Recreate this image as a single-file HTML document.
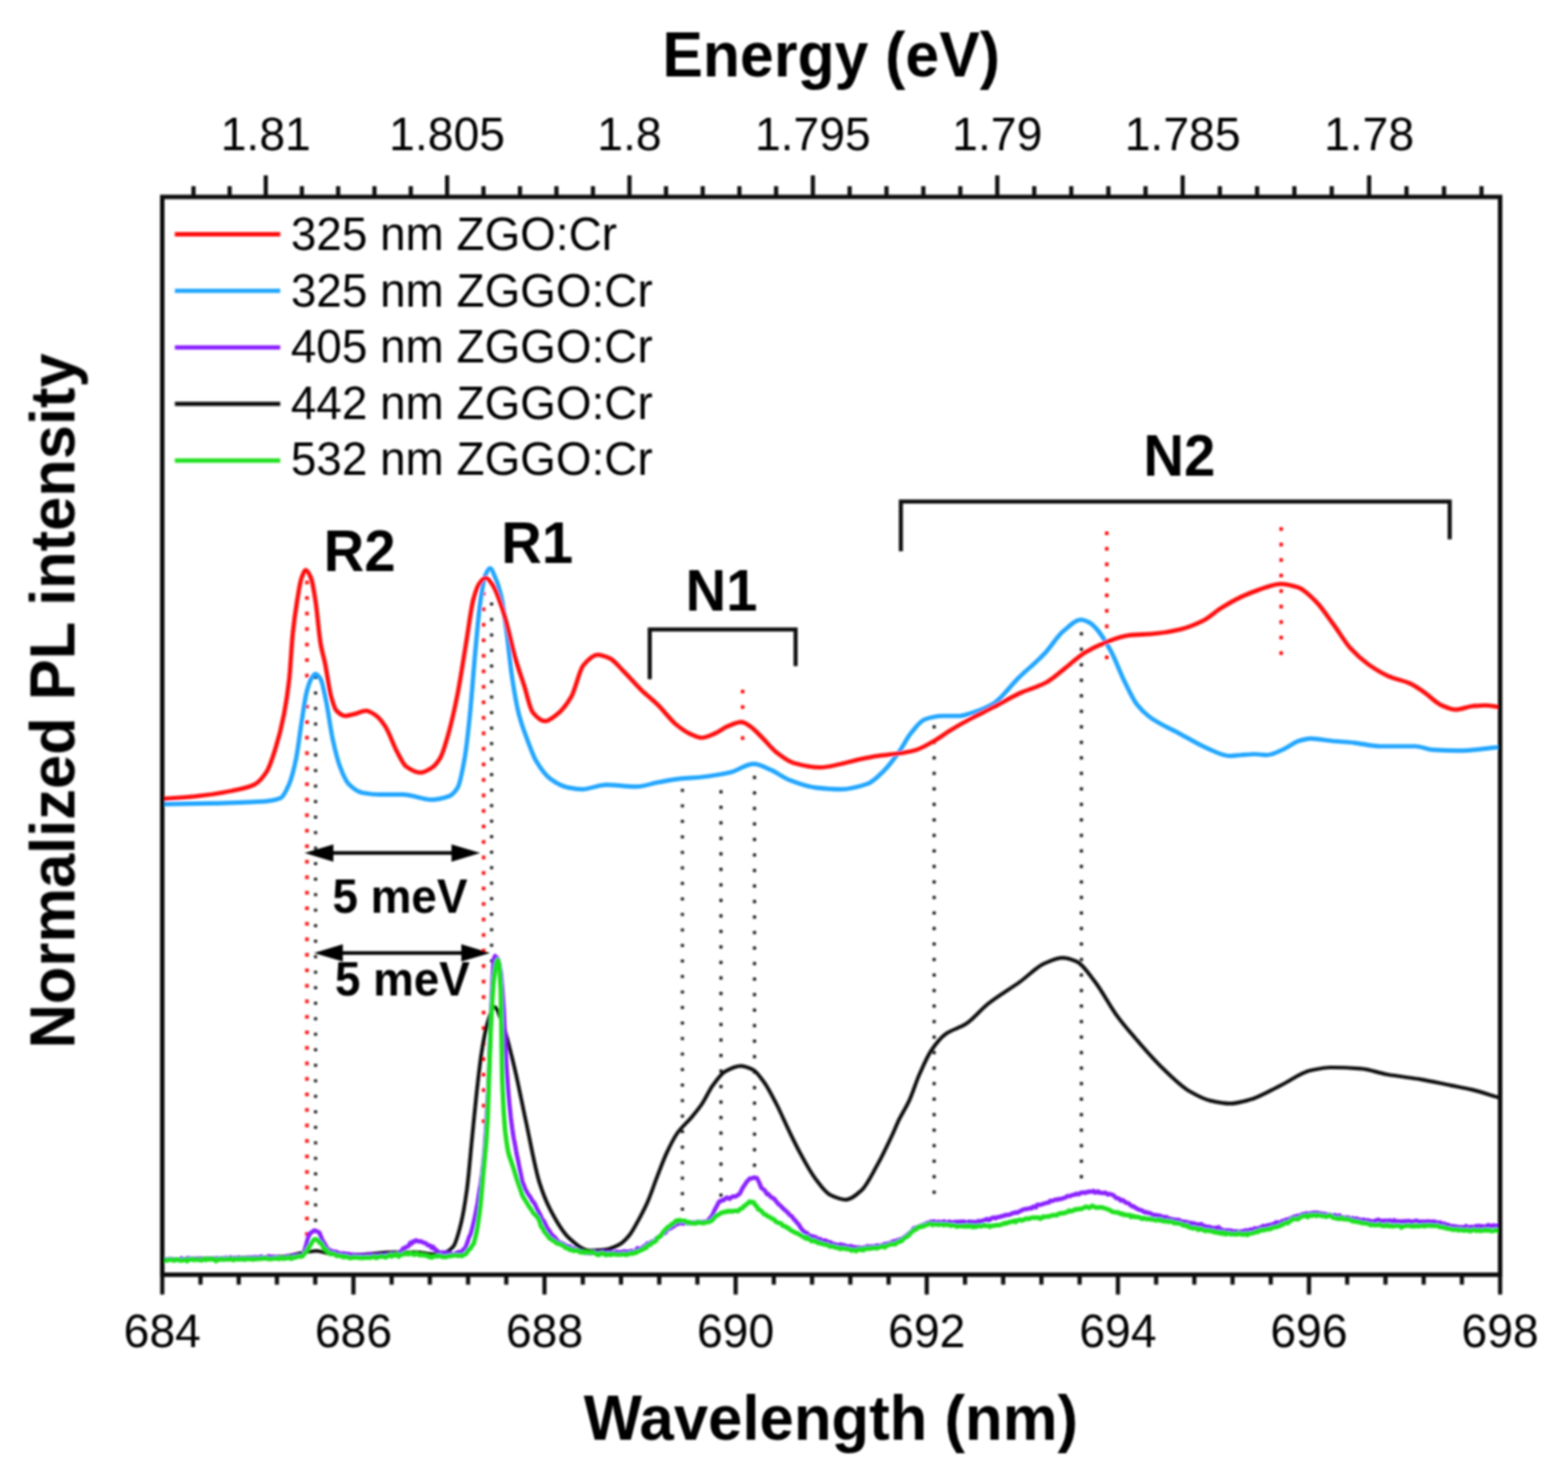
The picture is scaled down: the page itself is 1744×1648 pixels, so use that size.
<!DOCTYPE html><html><head><meta charset="utf-8"><title>PL spectra</title><style>html,body{margin:0;padding:0;background:#fff;}svg{display:block;}#w{width:1744px;height:1648px;}text{font-family:"Liberation Sans",Arial,sans-serif;fill:#000;}.b{font-weight:bold;}</style></head><body>
<div id="w">
<svg width="1744" height="1648" viewBox="0 0 1744 1648">
<defs><filter id="bl" x="0" y="0" width="1744" height="1648" filterUnits="userSpaceOnUse"><feGaussianBlur stdDeviation="1"/></filter></defs>
<rect width="1744" height="1648" fill="#fff"/>
<g filter="url(#bl)">
<line x1="341.4" y1="645.65" x2="341.4" y2="1391.40" stroke="#ff0d0d" stroke-width="4" stroke-dasharray="4.00 13.25" fill="none"/>
<line x1="351.0" y1="751.65" x2="351.0" y2="1358.80" stroke="#111111" stroke-width="3.4" stroke-dasharray="3.40 13.85" fill="none"/>
<line x1="537.9" y1="658.25" x2="537.9" y2="1248.75" stroke="#ff0d0d" stroke-width="4" stroke-dasharray="4.00 13.25" fill="none"/>
<line x1="546.8" y1="669.90" x2="546.8" y2="1070.05" stroke="#111111" stroke-width="3.4" stroke-dasharray="3.40 13.85" fill="none"/>
<line x1="759.0" y1="877.20" x2="759.0" y2="1346.35" stroke="#111111" stroke-width="3.4" stroke-dasharray="3.40 13.85" fill="none"/>
<line x1="801.9" y1="878.80" x2="801.9" y2="1330.70" stroke="#111111" stroke-width="3.4" stroke-dasharray="3.40 13.85" fill="none"/>
<line x1="839.2" y1="862.80" x2="839.2" y2="1297.45" stroke="#111111" stroke-width="3.4" stroke-dasharray="3.40 13.85" fill="none"/>
<line x1="1039.0" y1="806.60" x2="1039.0" y2="1327.50" stroke="#111111" stroke-width="3.4" stroke-dasharray="3.40 13.85" fill="none"/>
<line x1="1202.8" y1="703.00" x2="1202.8" y2="1310.15" stroke="#111111" stroke-width="3.4" stroke-dasharray="3.40 13.85" fill="none"/>
<line x1="826.0" y1="766.90" x2="826.0" y2="822.65" stroke="#ff0d0d" stroke-width="4" stroke-dasharray="4.00 13.25" fill="none"/>
<line x1="1231.0" y1="591.00" x2="1231.0" y2="733.00" stroke="#ff0d0d" stroke-width="4" stroke-dasharray="4.00 13.25" fill="none"/>
<line x1="1425.0" y1="586.20" x2="1425.0" y2="728.20" stroke="#ff0d0d" stroke-width="4" stroke-dasharray="4.00 13.25" fill="none"/>
<path d="M181.0,1400.4 C226.5,1399.3 272.1,1399.5 317.6,1397.0 C323.3,1396.7 329.1,1394.5 334.8,1393.5 C340.5,1392.5 346.3,1391.0 352.0,1391.0 C357.7,1391.0 363.5,1394.0 369.2,1394.4 C377.8,1394.9 386.4,1395.3 395.0,1395.3 C409.3,1395.3 423.7,1392.7 438.0,1392.7 C446.6,1392.7 455.2,1392.7 463.8,1392.7 C469.2,1392.7 474.6,1394.5 480.0,1394.5 C484.4,1394.5 488.7,1394.1 493.1,1393.5 C496.7,1393.0 500.4,1390.4 504.0,1386.4 C506.9,1383.2 509.9,1371.9 512.8,1360.2 C515.0,1351.6 517.1,1338.8 519.3,1323.0 C521.1,1309.6 523.0,1286.6 524.8,1268.4 C526.6,1250.2 528.5,1230.1 530.3,1213.8 C532.1,1197.8 533.9,1181.3 535.7,1170.1 C537.9,1156.5 540.1,1144.3 542.3,1137.4 C544.9,1129.3 547.4,1119.9 550.0,1119.9 C552.9,1119.9 555.8,1130.0 558.7,1137.4 C563.1,1148.5 567.4,1167.5 571.8,1185.4 C576.2,1203.3 580.5,1226.5 584.9,1246.6 C589.9,1269.8 595.0,1299.0 600.0,1315.0 C604.0,1327.7 608.0,1337.3 612.0,1345.0 C619.3,1359.0 626.6,1371.4 633.9,1377.7 C641.2,1383.9 648.4,1390.8 655.7,1390.8 C661.5,1390.8 667.4,1390.3 673.2,1389.7 C678.3,1389.1 683.4,1386.9 688.5,1384.2 C692.3,1382.2 696.2,1378.2 700.0,1373.6 C703.4,1369.5 706.9,1362.6 710.3,1356.4 C713.7,1350.2 717.2,1343.6 720.6,1335.8 C724.1,1327.9 727.5,1317.2 731.0,1308.3 C734.4,1299.5 737.9,1289.9 741.3,1282.5 C745.3,1273.9 749.3,1265.7 753.3,1260.1 C758.5,1252.8 763.6,1249.1 768.8,1242.9 C772.8,1238.1 776.9,1233.3 780.9,1227.4 C784.9,1221.5 788.9,1212.3 792.9,1206.8 C797.5,1200.5 802.1,1193.8 806.7,1191.3 C812.4,1188.2 818.2,1185.3 823.9,1185.3 C828.5,1185.3 833.0,1187.3 837.6,1189.6 C841.6,1191.6 845.7,1197.8 849.7,1203.3 C854.3,1209.6 858.8,1218.6 863.4,1227.4 C868.0,1236.2 872.6,1247.2 877.2,1256.7 C881.2,1265.0 885.2,1273.4 889.2,1280.8 C894.9,1291.4 900.7,1302.4 906.4,1310.0 C912.1,1317.6 917.9,1326.2 923.6,1328.9 C929.3,1331.6 935.1,1334.1 940.8,1334.1 C946.5,1334.1 952.3,1328.8 958.0,1323.8 C963.8,1318.8 969.5,1306.5 975.3,1296.3 C981.0,1286.1 986.8,1274.0 992.5,1261.8 C995.0,1256.5 997.5,1250.1 1000.0,1245.0 C1003.7,1237.4 1007.5,1232.2 1011.2,1224.1 C1015.0,1216.0 1018.7,1203.5 1022.5,1195.0 C1027.0,1184.9 1031.4,1174.6 1035.9,1168.0 C1041.1,1160.3 1046.4,1153.7 1051.6,1150.0 C1059.1,1144.7 1066.6,1143.6 1074.1,1138.8 C1082.3,1133.5 1090.6,1122.8 1098.8,1116.3 C1110.8,1106.8 1122.7,1100.2 1134.7,1091.6 C1143.7,1085.1 1152.7,1075.3 1161.7,1071.4 C1168.4,1068.5 1175.2,1065.1 1181.9,1065.1 C1187.1,1065.1 1192.4,1067.0 1197.6,1069.2 C1204.3,1072.0 1211.1,1083.0 1217.8,1091.6 C1226.0,1102.2 1234.3,1118.6 1242.5,1129.8 C1249.2,1139.0 1256.0,1146.7 1262.7,1154.5 C1271.8,1165.1 1280.9,1175.8 1290.0,1184.7 C1301.2,1195.6 1312.3,1207.3 1323.5,1213.8 C1331.0,1218.1 1338.4,1222.2 1345.9,1223.9 C1353.4,1225.6 1360.8,1227.2 1368.3,1227.2 C1375.7,1227.2 1383.2,1224.8 1390.6,1222.8 C1401.8,1219.8 1413.0,1212.5 1424.2,1207.1 C1435.4,1201.7 1446.5,1192.8 1457.7,1190.3 C1465.2,1188.7 1472.6,1187.0 1480.1,1187.0 C1491.3,1187.0 1502.4,1187.5 1513.6,1188.3 C1523.3,1189.0 1533.0,1193.1 1542.7,1194.8 C1555.4,1197.1 1568.0,1198.2 1580.7,1200.4 C1591.9,1202.3 1603.0,1204.9 1614.2,1207.1 C1621.7,1208.6 1629.1,1209.8 1636.6,1211.6 C1646.7,1214.0 1656.9,1217.5 1667.0,1220.5" fill="none" stroke="#111111" stroke-width="4.2" stroke-linejoin="round" stroke-linecap="round"/>
<path d="M181.0,1400.5L182.6,1400.3L184.2,1400.7L185.8,1400.3L187.4,1400.2L189.0,1399.9L190.6,1400.2L192.2,1401.0L193.8,1400.6L195.4,1400.9L197.0,1400.4L198.6,1400.5L200.2,1400.3L201.8,1399.3L203.4,1400.7L205.0,1400.5L206.6,1400.4L208.2,1399.2L209.8,1399.1L211.4,1399.6L213.0,1399.8L214.6,1400.2L216.2,1400.0L217.8,1400.3L219.4,1399.6L221.0,1400.1L222.6,1400.2L224.2,1399.5L225.8,1400.8L227.4,1400.2L229.0,1400.5L230.6,1399.5L232.2,1399.4L233.8,1399.6L235.4,1399.7L237.0,1400.1L238.6,1399.8L240.2,1399.4L241.8,1399.1L243.4,1399.3L245.0,1400.2L246.6,1399.1L248.2,1399.6L249.8,1399.7L251.4,1398.6L253.0,1399.4L254.6,1400.1L256.2,1398.2L257.8,1399.1L259.4,1399.2L261.0,1398.8L262.6,1399.5L264.2,1399.2L265.8,1398.3L267.4,1399.6L269.0,1399.5L270.6,1399.6L272.2,1399.8L273.8,1399.2L275.4,1399.0L277.0,1398.2L278.6,1399.2L280.2,1398.5L281.8,1398.5L283.4,1398.0L285.0,1398.2L286.6,1398.4L288.2,1399.3L289.8,1397.4L291.4,1397.7L293.0,1398.6L294.6,1399.2L296.2,1398.7L297.8,1397.3L299.4,1396.9L301.0,1398.4L302.6,1397.7L304.2,1397.5L305.8,1398.5L307.4,1398.5L309.0,1398.0L310.6,1397.9L312.2,1398.0L313.8,1398.6L315.4,1397.9L317.0,1397.8L318.6,1397.8L320.2,1396.5L321.8,1398.0L323.4,1397.8L325.0,1397.5L326.6,1396.0L328.2,1396.7L329.8,1397.3L331.4,1395.7L333.0,1396.4L334.6,1396.8L336.2,1395.2L337.8,1393.8L339.4,1388.2L341.0,1382.4L342.6,1376.6L344.2,1373.1L345.8,1370.5L347.4,1370.0L349.0,1368.5L350.6,1368.3L352.2,1369.2L353.8,1369.8L355.4,1371.0L357.0,1375.2L358.6,1379.0L360.2,1381.5L361.8,1384.4L363.4,1387.4L365.0,1388.9L366.6,1390.1L368.2,1391.9L369.8,1391.1L371.4,1392.8L373.0,1391.8L374.6,1392.4L376.2,1393.4L377.8,1394.0L379.4,1394.0L381.0,1394.0L382.6,1394.0L384.2,1394.2L385.8,1394.6L387.4,1394.4L389.0,1394.9L390.6,1395.2L392.2,1395.1L393.8,1395.7L395.4,1395.8L397.0,1396.8L398.6,1396.0L400.2,1395.7L401.8,1395.8L403.4,1396.0L405.0,1396.5L406.6,1395.8L408.2,1396.2L409.8,1397.0L411.4,1394.6L413.0,1395.3L414.6,1396.1L416.2,1396.1L417.8,1396.0L419.4,1395.6L421.0,1396.2L422.6,1396.0L424.2,1395.5L425.8,1397.1L427.4,1395.9L429.0,1395.3L430.6,1395.5L432.2,1395.4L433.8,1395.4L435.4,1393.9L437.0,1395.1L438.6,1395.8L440.2,1394.2L441.8,1394.0L443.4,1393.6L445.0,1392.3L446.6,1391.4L448.2,1388.4L449.8,1387.9L451.4,1386.8L453.0,1386.3L454.6,1385.4L456.2,1382.1L457.8,1383.0L459.4,1380.5L461.0,1380.8L462.6,1379.1L464.2,1379.9L465.8,1380.6L467.4,1380.2L469.0,1380.8L470.6,1381.7L472.2,1382.1L473.8,1382.7L475.4,1384.4L477.0,1385.0L478.6,1385.1L480.2,1387.6L481.8,1386.6L483.4,1389.1L485.0,1389.8L486.6,1391.3L488.2,1392.6L489.8,1392.8L491.4,1393.5L493.0,1392.6L494.6,1392.9L496.2,1394.4L497.8,1393.7L499.4,1393.8L501.0,1393.7L502.6,1395.2L504.2,1394.8L505.8,1394.9L507.4,1393.2L509.0,1393.2L510.6,1392.0L512.2,1392.3L513.8,1392.0L515.4,1389.3L517.0,1388.4L518.6,1385.0L520.2,1380.6L521.8,1375.4L523.4,1372.7L525.0,1366.9L526.6,1360.3L528.2,1353.4L529.8,1345.2L531.4,1336.9L533.0,1326.1L534.6,1317.2L536.2,1306.0L537.8,1292.4L539.4,1274.6L541.0,1249.9L542.6,1220.2L544.2,1183.8L545.8,1139.1L547.4,1097.5L549.0,1067.1L550.6,1063.1L552.2,1064.7L553.8,1066.6L555.4,1072.3L557.0,1082.0L558.6,1099.3L560.2,1121.6L561.8,1155.7L563.4,1185.8L565.0,1209.5L566.6,1227.9L568.2,1243.1L569.8,1255.3L571.4,1265.6L573.0,1273.6L574.6,1283.1L576.2,1290.2L577.8,1298.9L579.4,1306.0L581.0,1314.1L582.6,1317.8L584.2,1322.1L585.8,1325.1L587.4,1327.9L589.0,1329.9L590.6,1332.5L592.2,1335.6L593.8,1337.0L595.4,1340.0L597.0,1343.6L598.6,1346.6L600.2,1349.6L601.8,1352.9L603.4,1356.6L605.0,1357.9L606.6,1361.2L608.2,1364.8L609.8,1367.3L611.4,1369.3L613.0,1372.1L614.6,1373.9L616.2,1375.2L617.8,1376.8L619.4,1378.9L621.0,1381.2L622.6,1381.5L624.2,1382.2L625.8,1383.1L627.4,1383.5L629.0,1385.1L630.6,1385.3L632.2,1387.0L633.8,1386.2L635.4,1388.4L637.0,1388.5L638.6,1388.4L640.2,1390.4L641.8,1390.4L643.4,1389.8L645.0,1391.0L646.6,1392.0L648.2,1391.9L649.8,1392.9L651.4,1393.1L653.0,1393.2L654.6,1393.1L656.2,1393.6L657.8,1393.3L659.4,1393.1L661.0,1391.7L662.6,1393.4L664.2,1393.6L665.8,1392.7L667.4,1392.6L669.0,1393.9L670.6,1391.8L672.2,1393.0L673.8,1394.1L675.4,1392.2L677.0,1393.0L678.6,1393.7L680.2,1392.5L681.8,1392.8L683.4,1393.0L685.0,1391.9L686.6,1392.3L688.2,1392.5L689.8,1392.7L691.4,1392.2L693.0,1392.0L694.6,1391.5L696.2,1391.8L697.8,1392.4L699.4,1391.9L701.0,1391.3L702.6,1391.0L704.2,1392.6L705.8,1391.3L707.4,1390.5L709.0,1388.1L710.6,1389.2L712.2,1388.3L713.8,1388.2L715.4,1386.7L717.0,1385.5L718.6,1384.9L720.2,1382.6L721.8,1383.4L723.4,1382.1L725.0,1380.6L726.6,1380.9L728.2,1380.2L729.8,1377.3L731.4,1376.5L733.0,1375.8L734.6,1374.4L736.2,1372.7L737.8,1371.0L739.4,1371.3L741.0,1369.4L742.6,1366.8L744.2,1365.5L745.8,1366.0L747.4,1364.5L749.0,1364.0L750.6,1362.6L752.2,1361.0L753.8,1361.2L755.4,1359.6L757.0,1360.1L758.6,1360.3L760.2,1360.5L761.8,1359.7L763.4,1359.9L765.0,1360.1L766.6,1360.0L768.2,1360.1L769.8,1359.7L771.4,1359.4L773.0,1359.9L774.6,1359.4L776.2,1358.8L777.8,1358.8L779.4,1359.1L781.0,1358.8L782.6,1358.8L784.2,1358.5L785.8,1358.3L787.4,1357.5L789.0,1355.2L790.6,1353.8L792.2,1351.4L793.8,1347.9L795.4,1344.4L797.0,1341.8L798.6,1338.4L800.2,1335.8L801.8,1335.7L803.4,1334.3L805.0,1334.5L806.6,1333.0L808.2,1331.7L809.8,1332.1L811.4,1333.2L813.0,1331.7L814.6,1330.7L816.2,1330.5L817.8,1330.6L819.4,1329.8L821.0,1328.7L822.6,1327.6L824.2,1324.7L825.8,1321.4L827.4,1318.8L829.0,1316.6L830.6,1314.0L832.2,1312.5L833.8,1310.6L835.4,1310.4L837.0,1310.3L838.6,1309.3L840.2,1309.8L841.8,1309.9L843.4,1313.0L845.0,1316.3L846.6,1320.6L848.2,1322.0L849.8,1323.0L851.4,1324.9L853.0,1327.9L854.6,1327.7L856.2,1329.8L857.8,1331.3L859.4,1332.2L861.0,1333.0L862.6,1335.2L864.2,1336.9L865.8,1338.9L867.4,1340.3L869.0,1341.5L870.6,1343.5L872.2,1344.9L873.8,1346.3L875.4,1347.8L877.0,1349.3L878.6,1351.4L880.2,1352.1L881.8,1354.1L883.4,1356.3L885.0,1357.5L886.6,1360.1L888.2,1361.2L889.8,1364.0L891.4,1366.6L893.0,1368.3L894.6,1369.6L896.2,1370.8L897.8,1371.2L899.4,1373.9L901.0,1374.0L902.6,1375.1L904.2,1374.8L905.8,1375.9L907.4,1375.7L909.0,1377.8L910.6,1378.5L912.2,1377.6L913.8,1379.2L915.4,1380.1L917.0,1379.3L918.6,1379.7L920.2,1380.6L921.8,1381.3L923.4,1381.3L925.0,1382.5L926.6,1383.0L928.2,1383.5L929.8,1383.9L931.4,1384.7L933.0,1384.8L934.6,1383.7L936.2,1384.5L937.8,1384.5L939.4,1384.8L941.0,1385.6L942.6,1386.0L944.2,1386.5L945.8,1385.6L947.4,1386.0L949.0,1386.9L950.6,1387.0L952.2,1387.1L953.8,1387.3L955.4,1387.0L957.0,1387.9L958.6,1387.7L960.2,1387.4L961.8,1387.0L963.4,1387.2L965.0,1385.7L966.6,1386.5L968.2,1386.9L969.8,1385.8L971.4,1386.5L973.0,1386.2L974.6,1385.1L976.2,1385.4L977.8,1385.1L979.4,1385.2L981.0,1384.9L982.6,1384.1L984.2,1383.3L985.8,1383.2L987.4,1382.9L989.0,1382.8L990.6,1382.1L992.2,1381.1L993.8,1380.3L995.4,1380.3L997.0,1379.6L998.6,1378.9L1000.2,1378.9L1001.8,1378.0L1003.4,1377.4L1005.0,1376.6L1006.6,1375.0L1008.2,1375.2L1009.8,1372.4L1011.4,1371.8L1013.0,1369.9L1014.6,1369.1L1016.2,1365.9L1017.8,1365.6L1019.4,1365.0L1021.0,1364.3L1022.6,1364.5L1024.2,1362.8L1025.8,1362.7L1027.4,1361.8L1029.0,1361.3L1030.6,1360.5L1032.2,1359.6L1033.8,1359.6L1035.4,1358.4L1037.0,1359.5L1038.6,1358.2L1040.2,1358.9L1041.8,1360.0L1043.4,1358.7L1045.0,1358.8L1046.6,1359.4L1048.2,1358.8L1049.8,1358.4L1051.4,1358.9L1053.0,1359.1L1054.6,1359.2L1056.2,1358.4L1057.8,1359.8L1059.4,1359.7L1061.0,1358.8L1062.6,1358.9L1064.2,1358.6L1065.8,1359.6L1067.4,1358.4L1069.0,1359.2L1070.6,1358.5L1072.2,1358.4L1073.8,1359.2L1075.4,1359.5L1077.0,1358.8L1078.6,1358.4L1080.2,1359.2L1081.8,1358.7L1083.4,1358.8L1085.0,1359.3L1086.6,1358.9L1088.2,1357.8L1089.8,1359.1L1091.4,1357.6L1093.0,1357.8L1094.6,1356.7L1096.2,1356.7L1097.8,1355.5L1099.4,1357.1L1101.0,1356.5L1102.6,1354.7L1104.2,1354.2L1105.8,1353.8L1107.4,1354.9L1109.0,1353.7L1110.6,1353.5L1112.2,1353.0L1113.8,1352.8L1115.4,1351.9L1117.0,1352.1L1118.6,1350.9L1120.2,1351.2L1121.8,1350.9L1123.4,1350.6L1125.0,1349.7L1126.6,1348.8L1128.2,1348.9L1129.8,1348.0L1131.4,1348.6L1133.0,1347.7L1134.6,1346.7L1136.2,1346.0L1137.8,1345.3L1139.4,1344.7L1141.0,1344.5L1142.6,1344.3L1144.2,1343.9L1145.8,1343.5L1147.4,1343.8L1149.0,1341.8L1150.6,1341.7L1152.2,1342.7L1153.8,1339.7L1155.4,1339.9L1157.0,1339.8L1158.6,1339.3L1160.2,1338.9L1161.8,1338.1L1163.4,1337.9L1165.0,1337.3L1166.6,1337.2L1168.2,1335.2L1169.8,1335.3L1171.4,1335.3L1173.0,1334.3L1174.6,1333.8L1176.2,1334.3L1177.8,1333.1L1179.4,1333.4L1181.0,1333.1L1182.6,1332.4L1184.2,1332.0L1185.8,1331.2L1187.4,1330.0L1189.0,1330.2L1190.6,1330.0L1192.2,1329.0L1193.8,1328.7L1195.4,1328.7L1197.0,1327.4L1198.6,1327.8L1200.2,1328.0L1201.8,1326.3L1203.4,1326.4L1205.0,1325.9L1206.6,1326.6L1208.2,1325.7L1209.8,1325.8L1211.4,1324.9L1213.0,1325.2L1214.6,1325.2L1216.2,1324.3L1217.8,1326.2L1219.4,1326.0L1221.0,1324.7L1222.6,1326.3L1224.2,1326.1L1225.8,1326.6L1227.4,1326.9L1229.0,1326.1L1230.6,1327.1L1232.2,1328.4L1233.8,1327.7L1235.4,1328.0L1237.0,1328.5L1238.6,1329.3L1240.2,1330.9L1241.8,1332.4L1243.4,1332.5L1245.0,1333.2L1246.6,1335.1L1248.2,1334.4L1249.8,1335.2L1251.4,1336.8L1253.0,1337.7L1254.6,1337.9L1256.2,1338.8L1257.8,1340.5L1259.4,1341.5L1261.0,1341.5L1262.6,1343.0L1264.2,1343.6L1265.8,1344.8L1267.4,1345.1L1269.0,1345.8L1270.6,1346.2L1272.2,1347.6L1273.8,1348.4L1275.4,1347.9L1277.0,1349.1L1278.6,1348.8L1280.2,1349.7L1281.8,1350.6L1283.4,1351.5L1285.0,1350.9L1286.6,1351.5L1288.2,1352.1L1289.8,1351.6L1291.4,1352.9L1293.0,1352.9L1294.6,1353.9L1296.2,1353.5L1297.8,1353.4L1299.4,1354.9L1301.0,1355.4L1302.6,1355.3L1304.2,1356.4L1305.8,1356.1L1307.4,1356.3L1309.0,1357.2L1310.6,1356.4L1312.2,1357.3L1313.8,1358.0L1315.4,1358.8L1317.0,1358.5L1318.6,1359.1L1320.2,1358.9L1321.8,1359.7L1323.4,1360.8L1325.0,1359.8L1326.6,1361.8L1328.2,1360.4L1329.8,1361.1L1331.4,1361.5L1333.0,1362.2L1334.6,1361.3L1336.2,1361.1L1337.8,1362.9L1339.4,1363.4L1341.0,1363.6L1342.6,1365.1L1344.2,1364.1L1345.8,1364.5L1347.4,1365.3L1349.0,1365.3L1350.6,1366.4L1352.2,1365.2L1353.8,1366.0L1355.4,1364.6L1357.0,1367.3L1358.6,1367.0L1360.2,1368.0L1361.8,1369.0L1363.4,1368.1L1365.0,1368.2L1366.6,1368.3L1368.2,1368.3L1369.8,1368.6L1371.4,1369.4L1373.0,1369.2L1374.6,1369.3L1376.2,1369.2L1377.8,1369.8L1379.4,1369.5L1381.0,1369.1L1382.6,1369.4L1384.2,1368.7L1385.8,1368.0L1387.4,1369.1L1389.0,1368.3L1390.6,1367.2L1392.2,1368.0L1393.8,1367.2L1395.4,1365.8L1397.0,1367.1L1398.6,1366.0L1400.2,1365.8L1401.8,1365.0L1403.4,1364.4L1405.0,1363.2L1406.6,1364.2L1408.2,1363.2L1409.8,1362.6L1411.4,1362.6L1413.0,1362.0L1414.6,1362.0L1416.2,1361.0L1417.8,1360.7L1419.4,1359.1L1421.0,1359.5L1422.6,1359.6L1424.2,1359.4L1425.8,1357.9L1427.4,1357.5L1429.0,1357.8L1430.6,1356.2L1432.2,1356.2L1433.8,1356.1L1435.4,1354.6L1437.0,1354.7L1438.6,1353.1L1440.2,1353.1L1441.8,1352.4L1443.4,1352.0L1445.0,1352.1L1446.6,1352.4L1448.2,1350.3L1449.8,1350.0L1451.4,1350.3L1453.0,1349.2L1454.6,1349.8L1456.2,1349.7L1457.8,1349.1L1459.4,1349.5L1461.0,1348.4L1462.6,1349.7L1464.2,1348.4L1465.8,1349.0L1467.4,1349.2L1469.0,1349.4L1470.6,1350.2L1472.2,1350.0L1473.8,1349.9L1475.4,1350.6L1477.0,1351.4L1478.6,1350.8L1480.2,1351.2L1481.8,1351.9L1483.4,1351.7L1485.0,1351.1L1486.6,1353.4L1488.2,1353.6L1489.8,1351.6L1491.4,1352.9L1493.0,1353.5L1494.6,1354.1L1496.2,1354.2L1497.8,1354.0L1499.4,1353.8L1501.0,1354.8L1502.6,1355.6L1504.2,1354.7L1505.8,1355.0L1507.4,1355.8L1509.0,1355.0L1510.6,1356.1L1512.2,1356.2L1513.8,1356.9L1515.4,1356.5L1517.0,1356.5L1518.6,1356.9L1520.2,1357.2L1521.8,1357.0L1523.4,1357.5L1525.0,1357.9L1526.6,1358.2L1528.2,1358.5L1529.8,1357.2L1531.4,1357.4L1533.0,1356.3L1534.6,1358.8L1536.2,1357.3L1537.8,1357.7L1539.4,1358.1L1541.0,1357.1L1542.6,1358.1L1544.2,1357.8L1545.8,1356.9L1547.4,1358.0L1549.0,1358.5L1550.6,1356.9L1552.2,1358.4L1553.8,1358.0L1555.4,1358.2L1557.0,1358.2L1558.6,1358.7L1560.2,1357.9L1561.8,1358.5L1563.4,1357.8L1565.0,1358.4L1566.6,1357.6L1568.2,1358.0L1569.8,1359.0L1571.4,1358.3L1573.0,1358.0L1574.6,1357.5L1576.2,1357.7L1577.8,1358.3L1579.4,1358.7L1581.0,1358.5L1582.6,1358.6L1584.2,1358.3L1585.8,1359.1L1587.4,1358.2L1589.0,1358.1L1590.6,1358.9L1592.2,1358.5L1593.8,1358.5L1595.4,1358.5L1597.0,1358.9L1598.6,1359.6L1600.2,1359.8L1601.8,1359.3L1603.4,1360.6L1605.0,1360.9L1606.6,1360.7L1608.2,1362.1L1609.8,1361.9L1611.4,1362.3L1613.0,1363.4L1614.6,1364.1L1616.2,1363.3L1617.8,1364.3L1619.4,1363.8L1621.0,1365.8L1622.6,1364.4L1624.2,1365.4L1625.8,1364.4L1627.4,1365.2L1629.0,1366.0L1630.6,1363.3L1632.2,1364.5L1633.8,1364.9L1635.4,1364.5L1637.0,1364.1L1638.6,1365.6L1640.2,1364.4L1641.8,1363.3L1643.4,1364.6L1645.0,1363.1L1646.6,1364.6L1648.2,1363.5L1649.8,1363.8L1651.4,1364.3L1653.0,1363.6L1654.6,1362.6L1656.2,1362.3L1657.8,1363.8L1659.4,1363.5L1661.0,1362.5L1662.6,1363.3L1664.2,1363.0L1665.8,1363.0" fill="none" stroke="#8a22ff" stroke-width="4.8" stroke-linejoin="round" stroke-linecap="round"/>
<path d="M181.0,1401.3L182.6,1400.6L184.2,1401.5L185.8,1401.8L187.4,1400.9L189.0,1400.5L190.6,1401.1L192.2,1401.4L193.8,1401.7L195.4,1400.4L197.0,1400.4L198.6,1401.5L200.2,1401.3L201.8,1401.9L203.4,1401.6L205.0,1400.9L206.6,1400.8L208.2,1402.4L209.8,1400.8L211.4,1400.5L213.0,1400.3L214.6,1400.9L216.2,1400.9L217.8,1400.7L219.4,1400.8L221.0,1401.0L222.6,1401.2L224.2,1401.4L225.8,1400.9L227.4,1399.7L229.0,1401.1L230.6,1399.9L232.2,1400.6L233.8,1399.8L235.4,1400.6L237.0,1400.2L238.6,1400.7L240.2,1402.4L241.8,1400.5L243.4,1401.0L245.0,1399.7L246.6,1400.3L248.2,1400.8L249.8,1400.3L251.4,1400.6L253.0,1400.4L254.6,1399.7L256.2,1400.6L257.8,1399.8L259.4,1401.3L261.0,1399.9L262.6,1400.5L264.2,1400.1L265.8,1400.6L267.4,1399.8L269.0,1400.6L270.6,1400.0L272.2,1400.7L273.8,1400.3L275.4,1400.0L277.0,1399.5L278.6,1400.3L280.2,1400.1L281.8,1400.7L283.4,1399.6L285.0,1400.1L286.6,1400.0L288.2,1399.8L289.8,1399.8L291.4,1399.7L293.0,1399.2L294.6,1399.0L296.2,1399.3L297.8,1399.7L299.4,1400.2L301.0,1399.9L302.6,1399.9L304.2,1399.6L305.8,1399.6L307.4,1399.2L309.0,1399.5L310.6,1400.0L312.2,1398.7L313.8,1398.5L315.4,1399.9L317.0,1398.9L318.6,1399.2L320.2,1399.1L321.8,1397.9L323.4,1399.7L325.0,1399.3L326.6,1398.3L328.2,1398.4L329.8,1397.9L331.4,1397.1L333.0,1397.3L334.6,1397.2L336.2,1397.0L337.8,1395.3L339.4,1393.1L341.0,1391.7L342.6,1388.3L344.2,1386.2L345.8,1383.5L347.4,1380.9L349.0,1378.6L350.6,1378.0L352.2,1378.2L353.8,1379.4L355.4,1381.8L357.0,1382.4L358.6,1385.0L360.2,1387.7L361.8,1389.5L363.4,1390.0L365.0,1392.7L366.6,1394.3L368.2,1394.2L369.8,1393.7L371.4,1394.4L373.0,1395.2L374.6,1396.8L376.2,1396.1L377.8,1396.2L379.4,1397.3L381.0,1396.7L382.6,1398.1L384.2,1397.1L385.8,1397.5L387.4,1398.4L389.0,1399.0L390.6,1398.8L392.2,1398.8L393.8,1397.7L395.4,1398.3L397.0,1398.4L398.6,1398.4L400.2,1399.0L401.8,1398.4L403.4,1399.0L405.0,1398.6L406.6,1398.3L408.2,1398.5L409.8,1398.6L411.4,1398.7L413.0,1397.9L414.6,1398.0L416.2,1397.3L417.8,1398.8L419.4,1398.7L421.0,1397.7L422.6,1397.4L424.2,1396.9L425.8,1397.5L427.4,1397.4L429.0,1398.3L430.6,1397.1L432.2,1396.4L433.8,1395.3L435.4,1397.2L437.0,1396.3L438.6,1395.1L440.2,1395.9L441.8,1394.7L443.4,1397.3L445.0,1395.9L446.6,1395.4L448.2,1394.8L449.8,1393.6L451.4,1394.6L453.0,1393.7L454.6,1394.8L456.2,1393.3L457.8,1393.9L459.4,1395.1L461.0,1395.4L462.6,1394.0L464.2,1394.0L465.8,1395.6L467.4,1395.9L469.0,1395.2L470.6,1395.7L472.2,1396.0L473.8,1396.1L475.4,1396.6L477.0,1397.8L478.6,1397.6L480.2,1398.4L481.8,1397.2L483.4,1397.2L485.0,1396.7L486.6,1397.2L488.2,1396.5L489.8,1396.2L491.4,1397.6L493.0,1397.9L494.6,1397.6L496.2,1397.8L497.8,1397.1L499.4,1396.6L501.0,1396.9L502.6,1396.6L504.2,1396.1L505.8,1395.7L507.4,1395.7L509.0,1396.5L510.6,1396.4L512.2,1396.0L513.8,1396.8L515.4,1395.6L517.0,1395.0L518.6,1394.1L520.2,1391.4L521.8,1389.0L523.4,1388.4L525.0,1385.2L526.6,1383.5L528.2,1378.1L529.8,1371.4L531.4,1362.7L533.0,1351.3L534.6,1338.6L536.2,1320.3L537.8,1301.9L539.4,1285.2L541.0,1267.3L542.6,1240.6L544.2,1190.4L545.8,1145.2L547.4,1114.3L549.0,1090.8L550.6,1078.6L552.2,1069.9L553.8,1067.5L555.4,1074.2L557.0,1101.3L558.6,1200.1L560.2,1235.6L561.8,1257.3L563.4,1269.9L565.0,1279.8L566.6,1285.9L568.2,1290.4L569.8,1295.2L571.4,1300.0L573.0,1305.3L574.6,1310.5L576.2,1315.5L577.8,1319.8L579.4,1324.5L581.0,1329.4L582.6,1332.0L584.2,1334.7L585.8,1337.3L587.4,1340.0L589.0,1342.6L590.6,1344.4L592.2,1347.2L593.8,1349.6L595.4,1351.0L597.0,1352.7L598.6,1354.8L600.2,1358.1L601.8,1364.2L603.4,1365.2L605.0,1368.9L606.6,1371.0L608.2,1373.0L609.8,1375.1L611.4,1377.2L613.0,1378.0L614.6,1379.2L616.2,1380.0L617.8,1381.3L619.4,1382.8L621.0,1382.9L622.6,1383.4L624.2,1384.1L625.8,1385.0L627.4,1385.6L629.0,1387.7L630.6,1388.0L632.2,1388.3L633.8,1389.9L635.4,1389.3L637.0,1390.6L638.6,1391.1L640.2,1390.2L641.8,1390.5L643.4,1391.2L645.0,1392.4L646.6,1392.8L648.2,1391.7L649.8,1393.1L651.4,1392.5L653.0,1392.7L654.6,1392.8L656.2,1393.1L657.8,1392.4L659.4,1393.0L661.0,1393.1L662.6,1394.1L664.2,1395.2L665.8,1395.7L667.4,1394.1L669.0,1393.4L670.6,1394.3L672.2,1394.1L673.8,1395.8L675.4,1395.1L677.0,1394.4L678.6,1395.4L680.2,1395.3L681.8,1394.1L683.4,1394.8L685.0,1394.9L686.6,1395.1L688.2,1395.2L689.8,1394.9L691.4,1395.1L693.0,1394.6L694.6,1394.4L696.2,1395.6L697.8,1394.8L699.4,1394.7L701.0,1393.4L702.6,1393.9L704.2,1394.1L705.8,1392.4L707.4,1393.2L709.0,1391.7L710.6,1391.5L712.2,1390.4L713.8,1389.7L715.4,1389.4L717.0,1387.6L718.6,1387.7L720.2,1385.4L721.8,1384.3L723.4,1384.2L725.0,1382.1L726.6,1381.4L728.2,1380.8L729.8,1379.5L731.4,1376.2L733.0,1375.7L734.6,1374.7L736.2,1372.4L737.8,1369.9L739.4,1368.0L741.0,1366.6L742.6,1364.7L744.2,1363.9L745.8,1362.6L747.4,1361.2L749.0,1360.6L750.6,1358.7L752.2,1357.2L753.8,1358.0L755.4,1356.7L757.0,1357.2L758.6,1357.5L760.2,1357.7L761.8,1357.6L763.4,1358.4L765.0,1360.1L766.6,1358.9L768.2,1359.5L769.8,1360.4L771.4,1360.3L773.0,1360.3L774.6,1360.4L776.2,1358.8L777.8,1359.3L779.4,1359.8L781.0,1359.9L782.6,1360.2L784.2,1359.6L785.8,1359.1L787.4,1359.1L789.0,1358.6L790.6,1358.0L792.2,1357.0L793.8,1355.0L795.4,1353.2L797.0,1351.6L798.6,1351.2L800.2,1350.0L801.8,1348.9L803.4,1348.3L805.0,1348.1L806.6,1347.4L808.2,1347.7L809.8,1346.6L811.4,1347.0L813.0,1346.6L814.6,1347.3L816.2,1346.4L817.8,1346.5L819.4,1346.6L821.0,1346.8L822.6,1345.0L824.2,1343.9L825.8,1343.6L827.4,1341.2L829.0,1340.6L830.6,1338.8L832.2,1337.9L833.8,1336.1L835.4,1337.1L837.0,1336.6L838.6,1337.3L840.2,1340.4L841.8,1341.4L843.4,1344.9L845.0,1345.2L846.6,1346.5L848.2,1348.2L849.8,1350.2L851.4,1350.5L853.0,1351.8L854.6,1352.9L856.2,1353.2L857.8,1354.8L859.4,1355.4L861.0,1356.0L862.6,1358.2L864.2,1359.1L865.8,1359.8L867.4,1360.2L869.0,1360.6L870.6,1363.0L872.2,1363.6L873.8,1363.7L875.4,1365.5L877.0,1365.6L878.6,1367.4L880.2,1368.4L881.8,1369.3L883.4,1370.1L885.0,1371.0L886.6,1371.1L888.2,1372.4L889.8,1373.1L891.4,1374.1L893.0,1375.1L894.6,1376.1L896.2,1377.3L897.8,1375.7L899.4,1378.0L901.0,1378.3L902.6,1380.3L904.2,1380.1L905.8,1379.3L907.4,1381.0L909.0,1381.1L910.6,1382.5L912.2,1381.9L913.8,1383.0L915.4,1383.4L917.0,1383.9L918.6,1384.1L920.2,1383.9L921.8,1385.5L923.4,1386.2L925.0,1386.0L926.6,1385.8L928.2,1386.9L929.8,1387.4L931.4,1387.4L933.0,1387.8L934.6,1389.0L936.2,1387.9L937.8,1388.5L939.4,1388.0L941.0,1389.0L942.6,1389.1L944.2,1389.2L945.8,1389.5L947.4,1390.9L949.0,1389.9L950.6,1389.9L952.2,1391.2L953.8,1389.9L955.4,1388.9L957.0,1389.9L958.6,1389.1L960.2,1390.3L961.8,1388.6L963.4,1388.8L965.0,1388.0L966.6,1388.7L968.2,1387.9L969.8,1388.2L971.4,1387.8L973.0,1387.5L974.6,1388.1L976.2,1387.9L977.8,1387.2L979.4,1386.4L981.0,1386.0L982.6,1386.4L984.2,1387.2L985.8,1385.3L987.4,1384.8L989.0,1384.4L990.6,1383.8L992.2,1383.4L993.8,1383.3L995.4,1383.7L997.0,1382.4L998.6,1381.5L1000.2,1380.3L1001.8,1380.6L1003.4,1379.5L1005.0,1377.6L1006.6,1376.4L1008.2,1375.5L1009.8,1374.6L1011.4,1372.9L1013.0,1371.1L1014.6,1369.4L1016.2,1368.4L1017.8,1366.9L1019.4,1367.1L1021.0,1364.4L1022.6,1364.2L1024.2,1364.6L1025.8,1363.2L1027.4,1363.7L1029.0,1362.4L1030.6,1362.1L1032.2,1361.5L1033.8,1360.7L1035.4,1360.7L1037.0,1362.3L1038.6,1361.5L1040.2,1361.5L1041.8,1361.7L1043.4,1361.6L1045.0,1362.0L1046.6,1361.4L1048.2,1361.6L1049.8,1362.4L1051.4,1361.8L1053.0,1361.5L1054.6,1362.3L1056.2,1362.3L1057.8,1363.1L1059.4,1362.5L1061.0,1362.4L1062.6,1363.0L1064.2,1364.1L1065.8,1363.3L1067.4,1363.4L1069.0,1363.3L1070.6,1363.5L1072.2,1363.8L1073.8,1364.1L1075.4,1362.4L1077.0,1364.0L1078.6,1363.3L1080.2,1363.1L1081.8,1364.6L1083.4,1363.2L1085.0,1364.4L1086.6,1363.8L1088.2,1362.7L1089.8,1363.6L1091.4,1363.7L1093.0,1363.2L1094.6,1362.0L1096.2,1363.1L1097.8,1363.2L1099.4,1362.7L1101.0,1364.3L1102.6,1363.1L1104.2,1363.0L1105.8,1362.9L1107.4,1362.4L1109.0,1362.2L1110.6,1362.4L1112.2,1362.2L1113.8,1361.4L1115.4,1361.2L1117.0,1360.1L1118.6,1360.7L1120.2,1359.6L1121.8,1359.7L1123.4,1358.7L1125.0,1358.5L1126.6,1358.4L1128.2,1357.3L1129.8,1358.9L1131.4,1357.2L1133.0,1356.9L1134.6,1356.2L1136.2,1357.2L1137.8,1356.9L1139.4,1356.1L1141.0,1354.9L1142.6,1355.2L1144.2,1355.6L1145.8,1354.8L1147.4,1354.2L1149.0,1354.0L1150.6,1354.1L1152.2,1354.3L1153.8,1353.8L1155.4,1353.9L1157.0,1355.3L1158.6,1354.5L1160.2,1352.8L1161.8,1353.3L1163.4,1352.9L1165.0,1352.6L1166.6,1353.0L1168.2,1352.0L1169.8,1351.7L1171.4,1351.3L1173.0,1351.2L1174.6,1351.6L1176.2,1350.9L1177.8,1349.4L1179.4,1349.4L1181.0,1348.8L1182.6,1349.3L1184.2,1348.6L1185.8,1348.5L1187.4,1347.5L1189.0,1346.1L1190.6,1347.0L1192.2,1346.5L1193.8,1346.2L1195.4,1344.8L1197.0,1345.2L1198.6,1344.5L1200.2,1344.2L1201.8,1344.4L1203.4,1344.2L1205.0,1343.2L1206.6,1342.4L1208.2,1341.7L1209.8,1342.5L1211.4,1343.2L1213.0,1342.3L1214.6,1340.9L1216.2,1341.6L1217.8,1342.2L1219.4,1343.0L1221.0,1342.8L1222.6,1342.6L1224.2,1342.8L1225.8,1342.5L1227.4,1343.2L1229.0,1343.8L1230.6,1344.0L1232.2,1345.0L1233.8,1345.3L1235.4,1346.3L1237.0,1347.5L1238.6,1347.7L1240.2,1348.0L1241.8,1348.2L1243.4,1348.0L1245.0,1349.2L1246.6,1350.0L1248.2,1349.5L1249.8,1351.1L1251.4,1350.6L1253.0,1351.3L1254.6,1351.3L1256.2,1351.1L1257.8,1353.3L1259.4,1351.8L1261.0,1353.3L1262.6,1352.8L1264.2,1353.5L1265.8,1353.2L1267.4,1353.7L1269.0,1354.7L1270.6,1355.5L1272.2,1354.2L1273.8,1354.9L1275.4,1355.7L1277.0,1355.0L1278.6,1355.9L1280.2,1355.3L1281.8,1356.3L1283.4,1356.3L1285.0,1357.0L1286.6,1356.7L1288.2,1356.0L1289.8,1357.2L1291.4,1356.4L1293.0,1357.7L1294.6,1358.3L1296.2,1358.0L1297.8,1357.6L1299.4,1358.9L1301.0,1358.6L1302.6,1358.1L1304.2,1358.9L1305.8,1360.3L1307.4,1359.7L1309.0,1360.4L1310.6,1360.6L1312.2,1360.3L1313.8,1361.4L1315.4,1362.3L1317.0,1362.7L1318.6,1363.0L1320.2,1362.3L1321.8,1364.7L1323.4,1364.8L1325.0,1365.4L1326.6,1366.0L1328.2,1365.5L1329.8,1365.8L1331.4,1366.6L1333.0,1367.7L1334.6,1366.2L1336.2,1367.2L1337.8,1367.3L1339.4,1368.2L1341.0,1369.0L1342.6,1368.4L1344.2,1368.1L1345.8,1369.1L1347.4,1369.2L1349.0,1368.8L1350.6,1370.4L1352.2,1369.9L1353.8,1370.9L1355.4,1370.0L1357.0,1371.6L1358.6,1370.4L1360.2,1372.0L1361.8,1370.7L1363.4,1372.6L1365.0,1371.8L1366.6,1371.3L1368.2,1372.2L1369.8,1372.6L1371.4,1372.0L1373.0,1372.3L1374.6,1372.8L1376.2,1372.6L1377.8,1371.0L1379.4,1372.4L1381.0,1372.8L1382.6,1372.6L1384.2,1372.8L1385.8,1371.7L1387.4,1373.3L1389.0,1372.0L1390.6,1371.5L1392.2,1371.6L1393.8,1371.2L1395.4,1370.4L1397.0,1369.6L1398.6,1370.1L1400.2,1369.4L1401.8,1367.7L1403.4,1367.8L1405.0,1368.2L1406.6,1367.6L1408.2,1367.3L1409.8,1367.1L1411.4,1366.5L1413.0,1366.9L1414.6,1365.3L1416.2,1364.9L1417.8,1364.9L1419.4,1364.6L1421.0,1364.0L1422.6,1363.8L1424.2,1362.1L1425.8,1362.4L1427.4,1361.4L1429.0,1359.9L1430.6,1359.7L1432.2,1360.3L1433.8,1358.9L1435.4,1357.5L1437.0,1355.8L1438.6,1356.1L1440.2,1355.5L1441.8,1355.3L1443.4,1356.0L1445.0,1354.6L1446.6,1353.8L1448.2,1352.7L1449.8,1352.1L1451.4,1352.3L1453.0,1351.8L1454.6,1353.5L1456.2,1351.4L1457.8,1351.1L1459.4,1352.0L1461.0,1351.4L1462.6,1350.8L1464.2,1352.2L1465.8,1351.4L1467.4,1351.0L1469.0,1352.0L1470.6,1352.2L1472.2,1352.0L1473.8,1352.7L1475.4,1353.0L1477.0,1352.2L1478.6,1351.8L1480.2,1351.9L1481.8,1353.3L1483.4,1354.3L1485.0,1354.4L1486.6,1354.9L1488.2,1355.4L1489.8,1354.6L1491.4,1355.4L1493.0,1354.2L1494.6,1355.7L1496.2,1355.8L1497.8,1355.9L1499.4,1356.1L1501.0,1356.0L1502.6,1357.1L1504.2,1358.1L1505.8,1357.6L1507.4,1358.5L1509.0,1358.2L1510.6,1359.1L1512.2,1358.8L1513.8,1359.9L1515.4,1359.9L1517.0,1360.5L1518.6,1360.3L1520.2,1360.3L1521.8,1361.0L1523.4,1361.9L1525.0,1362.4L1526.6,1361.5L1528.2,1362.2L1529.8,1362.4L1531.4,1362.3L1533.0,1361.4L1534.6,1362.5L1536.2,1362.0L1537.8,1363.3L1539.4,1363.2L1541.0,1363.2L1542.6,1361.6L1544.2,1363.4L1545.8,1363.5L1547.4,1362.5L1549.0,1363.8L1550.6,1363.4L1552.2,1363.3L1553.8,1363.1L1555.4,1362.9L1557.0,1363.3L1558.6,1365.2L1560.2,1363.6L1561.8,1363.6L1563.4,1363.1L1565.0,1363.1L1566.6,1363.1L1568.2,1362.9L1569.8,1363.8L1571.4,1363.2L1573.0,1363.8L1574.6,1362.6L1576.2,1363.7L1577.8,1363.2L1579.4,1363.5L1581.0,1363.1L1582.6,1362.6L1584.2,1363.7L1585.8,1362.8L1587.4,1362.9L1589.0,1362.5L1590.6,1363.1L1592.2,1362.8L1593.8,1363.2L1595.4,1363.3L1597.0,1362.9L1598.6,1362.8L1600.2,1364.0L1601.8,1364.6L1603.4,1364.8L1605.0,1364.1L1606.6,1365.5L1608.2,1365.7L1609.8,1366.0L1611.4,1366.5L1613.0,1366.4L1614.6,1367.0L1616.2,1367.7L1617.8,1367.2L1619.4,1367.0L1621.0,1367.9L1622.6,1368.2L1624.2,1367.2L1625.8,1367.8L1627.4,1368.5L1629.0,1368.1L1630.6,1368.3L1632.2,1367.5L1633.8,1368.7L1635.4,1369.2L1637.0,1368.1L1638.6,1367.8L1640.2,1367.6L1641.8,1368.7L1643.4,1368.3L1645.0,1367.8L1646.6,1368.9L1648.2,1368.6L1649.8,1368.5L1651.4,1367.2L1653.0,1368.1L1654.6,1368.5L1656.2,1367.5L1657.8,1368.7L1659.4,1369.0L1661.0,1368.8L1662.6,1367.8L1664.2,1367.8L1665.8,1368.7" fill="none" stroke="#1ce01c" stroke-width="5.0" stroke-linejoin="round" stroke-linecap="round"/>
<path d="M181.0,894.2 C200.1,893.9 219.2,893.7 238.3,893.2 C257.7,892.7 277.1,892.5 296.5,891.0 C301.7,890.6 306.8,889.7 312.0,887.5 C315.2,886.1 318.5,879.2 321.7,871.8 C324.3,865.8 326.9,855.3 329.5,842.7 C331.4,833.3 333.4,816.0 335.3,803.9 C337.3,791.5 339.2,776.3 341.2,769.0 C343.1,761.9 345.1,756.1 347.0,753.4 C348.3,751.6 349.6,749.5 350.9,749.5 C352.8,749.5 354.8,752.2 356.7,755.3 C358.6,758.4 360.6,769.5 362.5,778.6 C365.1,790.8 367.7,811.5 370.3,823.3 C372.9,835.1 375.5,845.6 378.1,852.4 C381.3,860.9 384.6,868.6 387.8,871.8 C393.0,877.0 398.1,880.7 403.3,881.6 C409.8,882.7 416.2,883.5 422.7,883.5 C431.1,883.5 439.6,883.5 448.0,883.5 C458.7,883.5 469.3,889.3 480.0,889.3 C486.5,889.3 492.9,887.7 499.4,885.4 C502.6,884.2 505.9,881.0 509.1,875.7 C511.7,871.4 514.3,857.5 516.9,842.7 C518.8,831.7 520.8,813.1 522.7,794.2 C524.6,775.3 526.6,746.9 528.5,726.2 C530.5,705.1 532.4,681.1 534.4,668.0 C536.3,655.1 538.3,643.0 540.2,638.8 C541.8,635.3 543.4,632.0 545.0,632.0 C547.3,632.0 549.5,639.3 551.8,644.7 C553.8,649.4 555.7,655.4 557.7,664.1 C559.6,672.6 561.6,688.5 563.5,702.9 C565.4,717.3 567.4,738.6 569.3,751.5 C571.9,768.9 574.5,784.0 577.1,794.2 C580.3,806.9 583.6,814.7 586.8,823.3 C590.0,831.9 593.3,841.1 596.5,846.6 C601.7,855.3 606.8,862.3 612.0,866.0 C618.5,870.7 625.0,874.4 631.5,875.7 C636.7,876.7 641.8,877.7 647.0,877.7 C656.1,877.7 665.1,872.8 674.2,872.8 C685.2,872.8 696.2,874.8 707.2,874.8 C715.6,874.8 724.0,871.4 732.4,869.9 C740.2,868.5 747.9,866.8 755.7,866.0 C763.8,865.1 771.9,864.9 780.0,864.1 C790.4,863.0 800.7,861.5 811.1,859.2 C820.2,857.2 829.2,849.5 838.3,849.5 C844.8,849.5 851.2,853.5 857.7,856.3 C864.2,859.1 870.6,864.4 877.1,867.0 C886.8,870.8 896.5,874.6 906.2,875.7 C915.9,876.8 925.6,877.7 935.3,877.7 C945.0,877.7 954.8,875.1 964.5,871.8 C971.0,869.6 977.4,862.7 983.9,856.3 C989.1,851.2 994.2,844.1 999.4,836.9 C1003.9,830.6 1008.5,821.1 1013.0,815.5 C1018.2,809.2 1023.3,801.8 1028.5,800.0 C1035.0,797.8 1041.5,796.1 1048.0,796.1 C1054.5,796.1 1060.9,796.1 1067.4,796.1 C1071.6,796.1 1075.8,794.3 1080.0,793.0 C1088.4,790.5 1096.8,787.3 1105.2,782.3 C1114.3,776.9 1123.3,763.1 1132.4,754.2 C1142.1,744.7 1151.9,737.2 1161.6,727.0 C1168.7,719.5 1175.8,707.6 1182.9,701.7 C1189.4,696.3 1195.8,689.1 1202.3,689.1 C1205.5,689.1 1208.8,690.8 1212.0,692.5 C1214.6,693.8 1217.2,696.6 1219.8,699.5 C1225.0,705.2 1230.1,714.1 1235.3,723.5 C1240.5,733.0 1245.7,747.6 1250.9,758.1 C1255.4,767.2 1260.0,777.4 1264.5,783.3 C1269.0,789.2 1273.6,793.5 1278.1,796.9 C1289.7,805.6 1301.4,810.0 1313.0,816.3 C1322.7,821.6 1332.4,827.7 1342.1,831.8 C1350.5,835.3 1359.0,840.6 1367.4,840.6 C1371.6,840.6 1375.8,839.9 1380.0,839.6 C1385.2,839.2 1390.3,838.6 1395.5,838.6 C1400.0,838.6 1404.6,839.6 1409.1,839.6 C1415.6,839.6 1422.0,835.6 1428.5,832.8 C1433.7,830.5 1438.9,825.7 1444.1,824.1 C1448.6,822.7 1453.2,821.2 1457.7,821.2 C1466.1,821.2 1474.5,823.3 1482.9,824.1 C1490.7,824.8 1498.4,825.2 1506.2,826.0 C1515.9,827.0 1525.6,829.9 1535.3,829.9 C1548.3,829.9 1561.2,829.9 1574.2,829.9 C1580.7,829.9 1587.1,833.4 1593.6,833.8 C1603.3,834.4 1613.0,834.8 1622.7,834.8 C1637.5,834.8 1652.2,832.2 1667.0,830.9" fill="none" stroke="#22a6ff" stroke-width="4.9" stroke-linejoin="round" stroke-linecap="round"/>
<path d="M181.0,888.3 C193.6,887.3 206.2,886.7 218.8,885.4 C231.8,884.1 244.7,882.1 257.7,879.5 C266.1,877.8 274.5,876.4 282.9,872.5 C287.4,870.4 292.0,865.2 296.5,858.3 C299.7,853.4 303.0,843.2 306.2,833.0 C309.4,822.8 312.7,810.8 315.9,794.2 C317.8,784.3 319.8,772.7 321.7,755.3 C323.0,743.6 324.3,717.5 325.6,705.0 C327.2,689.3 328.9,678.1 330.5,668.0 C332.1,658.1 333.7,647.4 335.3,643.0 C336.9,638.6 338.6,634.0 340.2,634.0 C342.1,634.0 344.1,638.3 346.0,643.0 C347.6,646.9 349.3,657.7 350.9,668.0 C352.8,680.2 354.8,705.5 356.7,716.5 C358.3,725.8 360.0,730.1 361.6,738.0 C363.8,748.8 366.1,766.9 368.3,774.8 C370.3,781.7 372.2,788.3 374.2,790.3 C377.4,793.6 380.7,796.1 383.9,796.1 C387.1,796.1 390.4,794.9 393.6,794.2 C398.1,793.2 402.7,790.3 407.2,790.3 C411.1,790.3 414.9,793.3 418.8,796.1 C422.0,798.4 425.3,802.9 428.5,807.8 C433.0,814.7 437.6,828.7 442.1,836.9 C445.3,842.8 448.6,850.1 451.8,852.4 C457.0,856.1 462.2,859.2 467.4,859.2 C471.6,859.2 475.8,856.6 480.0,854.0 C483.2,852.0 486.5,848.1 489.7,842.7 C492.9,837.3 496.2,825.1 499.4,813.6 C502.6,802.1 505.9,787.3 509.1,770.9 C512.3,754.5 515.6,732.0 518.8,712.6 C521.4,697.0 524.0,675.3 526.6,666.0 C528.9,657.9 531.1,651.4 533.4,648.5 C535.7,645.6 537.9,642.7 540.2,642.7 C542.8,642.7 545.4,646.9 548.0,650.5 C551.2,655.0 554.5,664.6 557.7,673.8 C559.6,679.3 561.6,686.2 563.5,693.2 C566.7,704.9 570.0,720.7 573.2,732.0 C576.4,743.3 579.7,752.0 582.9,762.0 C586.1,772.0 589.4,788.3 592.6,792.2 C597.1,797.7 601.7,801.9 606.2,801.9 C610.7,801.9 615.3,797.7 619.8,794.2 C625.0,790.2 630.1,783.7 635.3,775.0 C639.8,767.3 644.4,745.1 648.9,739.8 C654.1,733.7 659.3,728.2 664.5,728.2 C669.0,728.2 673.6,730.1 678.1,732.0 C683.3,734.2 688.4,741.4 693.6,746.5 C700.1,752.9 706.5,760.7 713.0,767.0 C719.5,773.3 725.9,778.1 732.4,784.5 C738.9,790.9 745.3,800.2 751.8,805.5 C757.0,809.8 762.2,813.6 767.4,816.0 C771.6,817.9 775.8,820.4 780.0,820.4 C785.2,820.4 790.3,817.6 795.5,815.5 C800.0,813.6 804.6,809.6 809.1,807.8 C814.3,805.7 819.5,802.9 824.7,802.9 C827.9,802.9 831.2,805.7 834.4,807.8 C838.9,810.7 843.5,816.1 848.0,820.5 C853.2,825.6 858.3,832.5 863.5,836.5 C870.0,841.5 876.4,846.7 882.9,848.5 C892.6,851.2 902.3,853.4 912.0,853.4 C919.8,853.4 927.5,851.1 935.3,849.5 C941.8,848.2 948.3,846.1 954.8,844.7 C961.3,843.3 967.7,841.8 974.2,840.8 C982.6,839.6 991.0,839.1 999.4,837.9 C1005.9,836.9 1012.3,835.9 1018.8,834.0 C1025.3,832.1 1031.8,828.0 1038.3,824.3 C1044.8,820.7 1051.2,815.6 1057.7,811.7 C1065.1,807.2 1072.6,803.0 1080.0,799.0 C1088.4,794.5 1096.8,790.6 1105.2,786.2 C1114.9,781.1 1124.7,775.2 1134.4,770.7 C1144.1,766.3 1153.8,764.2 1163.5,759.0 C1170.0,755.5 1176.4,749.5 1182.9,744.5 C1190.7,738.5 1198.4,730.8 1206.2,726.0 C1214.0,721.2 1221.7,717.4 1229.5,714.4 C1237.9,711.2 1246.4,707.5 1254.8,706.6 C1264.5,705.5 1274.2,705.6 1283.9,704.7 C1293.6,703.8 1303.3,702.1 1313.0,699.8 C1321.4,697.8 1329.9,694.3 1338.3,690.1 C1344.8,686.9 1351.2,680.5 1357.7,676.5 C1365.1,671.9 1372.6,667.5 1380.0,664.0 C1386.5,661.0 1392.9,658.2 1399.4,656.1 C1407.8,653.3 1416.3,649.3 1424.7,649.3 C1431.2,649.3 1437.6,651.1 1444.1,653.2 C1450.6,655.3 1457.0,662.3 1463.5,668.7 C1470.0,675.1 1476.4,685.3 1482.9,694.0 C1489.4,702.7 1495.8,714.1 1502.3,721.2 C1508.8,728.3 1515.2,734.0 1521.7,738.6 C1529.5,744.1 1537.2,748.9 1545.0,752.2 C1552.8,755.5 1560.5,756.6 1568.3,760.0 C1573.5,762.3 1578.7,766.2 1583.9,769.7 C1590.4,774.1 1596.8,781.5 1603.3,784.3 C1608.5,786.5 1613.6,789.1 1618.8,789.1 C1625.3,789.1 1631.8,785.8 1638.3,785.2 C1642.8,784.8 1647.3,784.3 1651.8,784.3 C1656.9,784.3 1661.9,785.6 1667.0,786.2" fill="none" stroke="#ff0d0d" stroke-width="4.8" stroke-linejoin="round" stroke-linecap="round"/>
<rect x="180.5" y="219.0" width="1488.0" height="1198.5" fill="none" stroke="#111" stroke-width="5.0"/>
<path d="M180.5,1417.5V1439.5M223.0,1417.5V1428.5M265.5,1417.5V1428.5M308.0,1417.5V1428.5M350.6,1417.5V1428.5M393.1,1417.5V1439.5M435.6,1417.5V1428.5M478.1,1417.5V1428.5M520.6,1417.5V1428.5M563.1,1417.5V1428.5M605.6,1417.5V1439.5M648.2,1417.5V1428.5M690.7,1417.5V1428.5M733.2,1417.5V1428.5M775.7,1417.5V1428.5M818.2,1417.5V1439.5M860.7,1417.5V1428.5M903.2,1417.5V1428.5M945.8,1417.5V1428.5M988.3,1417.5V1428.5M1030.8,1417.5V1439.5M1073.3,1417.5V1428.5M1115.8,1417.5V1428.5M1158.3,1417.5V1428.5M1200.8,1417.5V1428.5M1243.4,1417.5V1439.5M1285.9,1417.5V1428.5M1328.4,1417.5V1428.5M1370.9,1417.5V1428.5M1413.4,1417.5V1428.5M1455.9,1417.5V1439.5M1498.4,1417.5V1428.5M1541.0,1417.5V1428.5M1583.5,1417.5V1428.5M1626.0,1417.5V1428.5M1668.5,1417.5V1439.5M1647.8,219.0V207.0M1606.1,219.0V207.0M1564.4,219.0V207.0M1522.8,219.0V195.0M1481.2,219.0V207.0M1439.7,219.0V207.0M1398.2,219.0V207.0M1356.8,219.0V207.0M1315.4,219.0V195.0M1274.1,219.0V207.0M1232.8,219.0V207.0M1191.5,219.0V207.0M1150.3,219.0V207.0M1109.2,219.0V195.0M1068.1,219.0V207.0M1027.0,219.0V207.0M986.0,219.0V207.0M945.0,219.0V207.0M904.1,219.0V195.0M863.2,219.0V207.0M822.4,219.0V207.0M781.6,219.0V207.0M740.8,219.0V207.0M700.1,219.0V195.0M659.5,219.0V207.0M618.9,219.0V207.0M578.3,219.0V207.0M537.8,219.0V207.0M497.3,219.0V195.0M456.9,219.0V207.0M416.5,219.0V207.0M376.1,219.0V207.0M335.8,219.0V207.0M295.6,219.0V195.0M255.4,219.0V207.0M215.2,219.0V207.0" stroke="#0a0a0a" stroke-width="4.6" fill="none"/>
<text x="180.5" y="1497.5" font-size="51.5" text-anchor="middle">684</text>
<text x="393.1" y="1497.5" font-size="51.5" text-anchor="middle">686</text>
<text x="605.6" y="1497.5" font-size="51.5" text-anchor="middle">688</text>
<text x="818.2" y="1497.5" font-size="51.5" text-anchor="middle">690</text>
<text x="1030.8" y="1497.5" font-size="51.5" text-anchor="middle">692</text>
<text x="1243.4" y="1497.5" font-size="51.5" text-anchor="middle">694</text>
<text x="1455.9" y="1497.5" font-size="51.5" text-anchor="middle">696</text>
<text x="1668.5" y="1497.5" font-size="51.5" text-anchor="middle">698</text>
<text x="295.6" y="167" font-size="51.5" text-anchor="middle">1.81</text>
<text x="497.3" y="167" font-size="51.5" text-anchor="middle">1.805</text>
<text x="700.1" y="167" font-size="51.5" text-anchor="middle">1.8</text>
<text x="904.1" y="167" font-size="51.5" text-anchor="middle">1.795</text>
<text x="1109.2" y="167" font-size="51.5" text-anchor="middle">1.79</text>
<text x="1315.4" y="167" font-size="51.5" text-anchor="middle">1.785</text>
<text x="1522.8" y="167" font-size="51.5" text-anchor="middle">1.78</text>
<text class="b" transform="translate(924.5,85.4) scale(1,1.035)" font-size="67.6" text-anchor="middle">Energy (eV)</text>
<text class="b" transform="translate(924.1,1601.0) scale(1,1.035)" font-size="68.6" text-anchor="middle">Wavelength (nm)</text>
<text class="b" transform="translate(83.0,779.4) rotate(-90) scale(1,1.035)" font-size="68.3" text-anchor="middle">Normalized PL intensity</text>
<line x1="194.5" y1="260.5" x2="311.7" y2="260.5" stroke="#ff0d0d" stroke-width="4.8"/>
<text x="323.5" y="278.0" font-size="51">325 nm ZGO:Cr</text>
<line x1="194.5" y1="323.4" x2="311.7" y2="323.4" stroke="#22a6ff" stroke-width="4.8"/>
<text x="323.5" y="340.5" font-size="51">325 nm ZGGO:Cr</text>
<line x1="194.5" y1="386.3" x2="311.7" y2="386.3" stroke="#8a22ff" stroke-width="4.8"/>
<text x="323.5" y="403.0" font-size="51">405 nm ZGGO:Cr</text>
<line x1="194.5" y1="449.2" x2="311.7" y2="449.2" stroke="#111111" stroke-width="4.8"/>
<text x="323.5" y="465.5" font-size="51">442 nm ZGGO:Cr</text>
<line x1="194.5" y1="512.1" x2="311.7" y2="512.1" stroke="#1ce01c" stroke-width="4.8"/>
<text x="323.5" y="528.0" font-size="51">532 nm ZGGO:Cr</text>
<text class="b" transform="translate(400.0,635.2) scale(1,1.035)" font-size="62.5" text-anchor="middle">R2</text>
<text class="b" transform="translate(597.5,626.1) scale(1,1.035)" font-size="62.5" text-anchor="middle">R1</text>
<text class="b" transform="translate(802.5,679.0) scale(1,1.035)" font-size="62.5" text-anchor="middle">N1</text>
<text class="b" transform="translate(1311.7,528.7) scale(1,1.035)" font-size="62.5" text-anchor="middle">N2</text>
<path d="M722.7,755.3V700H884.9V740.8" fill="none" stroke="#0a0a0a" stroke-width="4.5"/>
<path d="M1002,613V557.8H1612.4V599.8" fill="none" stroke="#0a0a0a" stroke-width="4.5"/>
<line x1="348.8" y1="948.6" x2="524.2" y2="948.6" stroke="#050505" stroke-width="4"/><path d="M338.8,948.6L370.8,939.0L370.8,958.2Z" fill="#050505"/><path d="M534.2,948.6L502.2,939.0L502.2,958.2Z" fill="#050505"/>
<line x1="359.3" y1="1059.7" x2="535.1" y2="1059.7" stroke="#050505" stroke-width="4"/><path d="M349.3,1059.7L381.3,1050.1L381.3,1069.3Z" fill="#050505"/><path d="M545.1,1059.7L513.1,1050.1L513.1,1069.3Z" fill="#050505"/>
<text class="b" transform="translate(444.8,1015.4) scale(1,1.035)" font-size="51.0" text-anchor="middle">5 meV</text>
<text class="b" transform="translate(447.5,1107.1) scale(1,1.035)" font-size="51.0" text-anchor="middle">5 meV</text>
</g></svg></div></body></html>
